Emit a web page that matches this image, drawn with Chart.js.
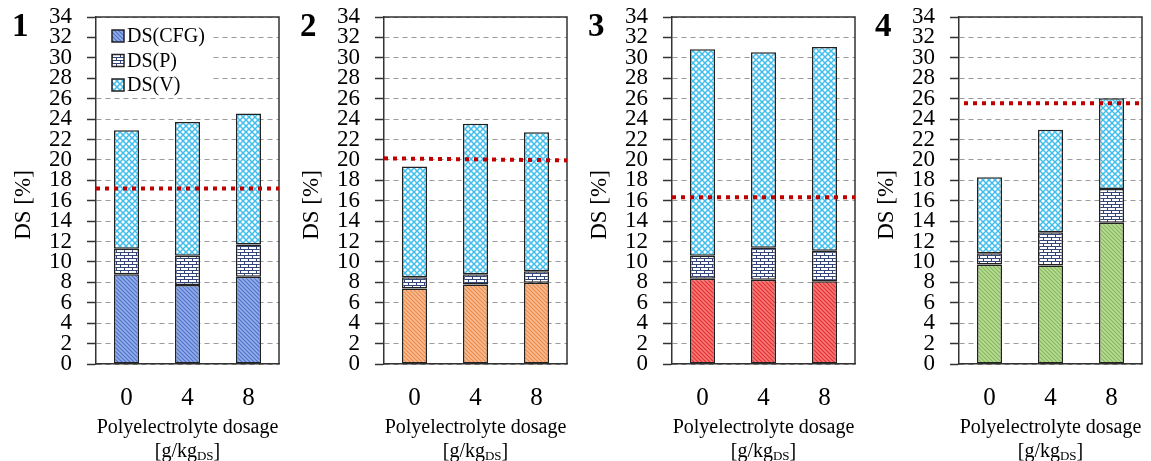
<!DOCTYPE html>
<html>
<head>
<meta charset="UTF-8"/>
<title>DS fractions</title>
<script src="https://cdn.jsdelivr.net/npm/chart.js@4.4.0/dist/chart.umd.min.js"></script>
<style>
    body { margin: 0; background: #fff; font-family: "Liberation Serif", serif; color: #000; }
    #wrap { position: relative; width: 1151px; height: 461px; overflow: hidden; }
    .panel { position: absolute; top: 0; width: 288px; height: 461px; }
    .panel canvas { position: absolute; left: 0; top: 0; }
    .num { position: absolute; left: 12px; top: 9px; font-weight: bold; font-size: 33px; line-height: 32px; }
    .ytitle { position: absolute; left: 23px; top: 205px; transform: translate(-50%, -50%) rotate(-90deg); font-size: 23px; white-space: nowrap; }
    .xtitle { position: absolute; left: 90px; width: 195px; top: 414px; text-align: center; font-size: 20px; line-height: 24px; white-space: nowrap; }
    .xtitle sub { font-size: 13px; vertical-align: -3px; line-height: 0; }
</style>
</head>
<body>
<div id="wrap">
    <div class="panel" style="left:0px"><canvas id="c1" width="288" height="461"></canvas><div class="num">1</div><div class="ytitle">DS [%]</div><div class="xtitle">Polyelectrolyte dosage<br>[g/kg<sub>DS</sub>]</div></div>
    <div class="panel" style="left:288px"><canvas id="c2" width="288" height="461"></canvas><div class="num">2</div><div class="ytitle">DS [%]</div><div class="xtitle">Polyelectrolyte dosage<br>[g/kg<sub>DS</sub>]</div></div>
    <div class="panel" style="left:576px"><canvas id="c3" width="288" height="461"></canvas><div class="num">3</div><div class="ytitle">DS [%]</div><div class="xtitle">Polyelectrolyte dosage<br>[g/kg<sub>DS</sub>]</div></div>
    <div class="panel" style="left:863px"><canvas id="c4" width="288" height="461"></canvas><div class="num">4</div><div class="ytitle">DS [%]</div><div class="xtitle">Polyelectrolyte dosage<br>[g/kg<sub>DS</sub>]</div></div>
</div>
<script type="text/javascript">

    // dosages on the x axis
    var categories = ['0', '4', '8'];
    var seriesNames = ['DS(CFG)', 'DS(P)', 'DS(V)'];

    // y axis ticks
    var yMin = 0;
    var yMax = 34;
    var yStep = 2;

    // panel 1 (stacked parts, %)
    var cfg1 = [8.8, 7.75, 8.55];
    var p1 = [2.5, 2.85, 3.15];
    var v1 = [11.6, 13.1, 12.85];
    var ref1 = [17.2, 17.2];

    // panel 2
    var cfg2 = [7.4, 7.8, 7.95];
    var p2 = [1.1, 1.0, 1.15];
    var v2 = [10.85, 14.75, 13.6];
    var ref2 = [20.15, 19.95];

    // panel 3
    var cfg3 = [8.35, 8.25, 8.1];
    var p3 = [2.25, 3.15, 3.0];
    var v3 = [20.25, 19.15, 19.95];
    var ref3 = [16.35, 16.35];

    // panel 4
    var cfg4 = [9.75, 9.65, 13.85];
    var p4 = [1.1, 3.25, 3.3];
    var v4 = [7.45, 10.05, 8.9];
    var ref4 = [25.55, 25.55];

    Chart.defaults.font.family = "'Liberation Serif', serif";
    Chart.defaults.color = '#000';

    function hatchPattern(bg, fg) {
        var c = document.createElement('canvas');
        c.width = 4; c.height = 4;
        var g = c.getContext('2d');
        g.fillStyle = bg;
        g.fillRect(0, 0, 4, 4);
        g.strokeStyle = fg;
        g.lineWidth = 1.2;
        g.beginPath();
        g.moveTo(-1, -1); g.lineTo(5, 5);
        g.moveTo(-1, 3); g.lineTo(1, 5);
        g.moveTo(3, -1); g.lineTo(5, 1);
        g.stroke();
        return g.createPattern(c, 'repeat');
    }

    function brickPattern() {
        var c = document.createElement('canvas');
        c.width = 8; c.height = 6;
        var g = c.getContext('2d');
        g.fillStyle = '#fff';
        g.fillRect(0, 0, 8, 6);
        g.fillStyle = '#34457a';
        g.fillRect(0, 0, 8, 1);
        g.fillRect(0, 3, 8, 1);
        g.fillRect(0, 0, 1, 3);
        g.fillRect(4, 3, 1, 3);
        return g.createPattern(c, 'repeat');
    }

    function crossPattern() {
        var c = document.createElement('canvas');
        c.width = 6; c.height = 6;
        var g = c.getContext('2d');
        g.fillStyle = '#fff';
        g.fillRect(0, 0, 6, 6);
        g.strokeStyle = '#3fbdec';
        g.lineWidth = 1.5;
        g.beginPath();
        g.moveTo(0, 0); g.lineTo(6, 6);
        g.moveTo(6, 0); g.lineTo(0, 6);
        g.stroke();
        return g.createPattern(c, 'repeat');
    }

    // top and right side of the plot box
    var framePlugin = {
        id: 'frame',
        afterDatasetsDraw: function(chart) {
            var a = chart.chartArea, ctx = chart.ctx;
            ctx.save();
            ctx.strokeStyle = '#333';
            ctx.lineWidth = 1.5;
            ctx.beginPath();
            ctx.moveTo(a.left, a.top);
            ctx.lineTo(a.right, a.top);
            ctx.lineTo(a.right, a.bottom);
            ctx.stroke();
            ctx.restore();
        }
    };

    // red dotted reference line
    var refLinePlugin = {
        id: 'refLine',
        afterDatasetsDraw: function(chart, args, opts) {
            var y = chart.scales.y, a = chart.chartArea, ctx = chart.ctx;
            ctx.save();
            ctx.strokeStyle = '#c00000';
            ctx.lineWidth = 4;
            ctx.setLineDash([4, 5]);
            ctx.beginPath();
            ctx.moveTo(a.left + (opts.startOffset || 0), y.getPixelForValue(opts.values[0]));
            ctx.lineTo(a.right, y.getPixelForValue(opts.values[1]));
            ctx.stroke();
            ctx.restore();
        }
    };

    // legend inside the plot (panel 1 only)
    var insideLegendPlugin = {
        id: 'insideLegend',
        beforeDatasetsDraw: function(chart, args, opts) {
            if (!opts.show) return;
            var a = chart.chartArea, ctx = chart.ctx;
            ctx.save();
            ctx.fillStyle = '#fff';
            ctx.fillRect(a.left + 1, a.top + 1, 115, 75);
            ctx.font = "20px 'Liberation Serif'";
            ctx.textBaseline = 'middle';
            chart.data.datasets.forEach(function(ds, i) {
                var yc = a.top + 19 + i * 24.5;
                ctx.fillStyle = ds.backgroundColor;
                ctx.fillRect(a.left + 16, yc - 6, 12, 12);
                ctx.strokeStyle = '#222';
                ctx.lineWidth = 1.5;
                ctx.strokeRect(a.left + 16, yc - 6, 12, 12);
                ctx.fillStyle = '#000';
                ctx.fillText(ds.label, a.left + 31, yc + 1);
            });
            ctx.restore();
        }
    };

    function makeChart(id, cfg, p, v, ref, cfgColors, showLegend, startOffset) {
        var parts = [cfg, p, v];
        var fills = [hatchPattern(cfgColors[0], cfgColors[1]), brickPattern(), crossPattern()];
        var datasets = parts.map(function(d, i) {
            return {
                label: seriesNames[i],
                data: d,
                backgroundColor: fills[i],
                borderColor: '#222',
                borderWidth: 1.5,
                borderSkipped: false,
                barPercentage: 1,
                categoryPercentage: 0.41
            };
        });
        return new Chart(document.getElementById(id), {
            type: 'bar',
            data: { labels: categories, datasets: datasets },
            options: {
                responsive: false,
                animation: false,
                layout: { padding: { top: 17, right: 9, left: 0, bottom: 0 } },
                plugins: {
                    legend: { display: false },
                    tooltip: { enabled: false },
                    refLine: { values: ref, startOffset: startOffset },
                    insideLegend: { show: showLegend }
                },
                scales: {
                    x: {
                        stacked: true,
                        grid: { display: false, drawTicks: false },
                        border: { color: '#333', width: 1.5 },
                        ticks: { font: { size: 25 }, padding: 19 },
                        afterFit: function(s) { s.height = 97; }
                    },
                    y: {
                        stacked: true,
                        min: yMin,
                        max: yMax,
                        ticks: { stepSize: yStep, autoSkip: false, font: { size: 23 }, padding: 15 },
                        grid: { color: '#9a9a9a', tickColor: '#333', tickLength: 9, tickWidth: 1.5, lineWidth: 1 },
                        border: { color: '#333', width: 1.5, dash: [5, 4] },
                        afterFit: function(s) {
                            s.width = 96;
                            s.paddingTop = 10;
                            s.paddingBottom = 10;
                        }
                    }
                }
            },
            plugins: [insideLegendPlugin, framePlugin, refLinePlugin]
        });
    }

    makeChart('c1', cfg1, p1, v1, ref1, ['#93aeea', '#4f71c8'], true, 0);
    makeChart('c2', cfg2, p2, v2, ref2, ['#f9bb92', '#ec8a4a'], false, 0);
    makeChart('c3', cfg3, p3, v3, ref3, ['#f77a7a', '#e62e2e'], false, 0);
    makeChart('c4', cfg4, p4, v4, ref4, ['#bbdc96', '#84b85a'], false, 5);
</script>
</body>
</html>
